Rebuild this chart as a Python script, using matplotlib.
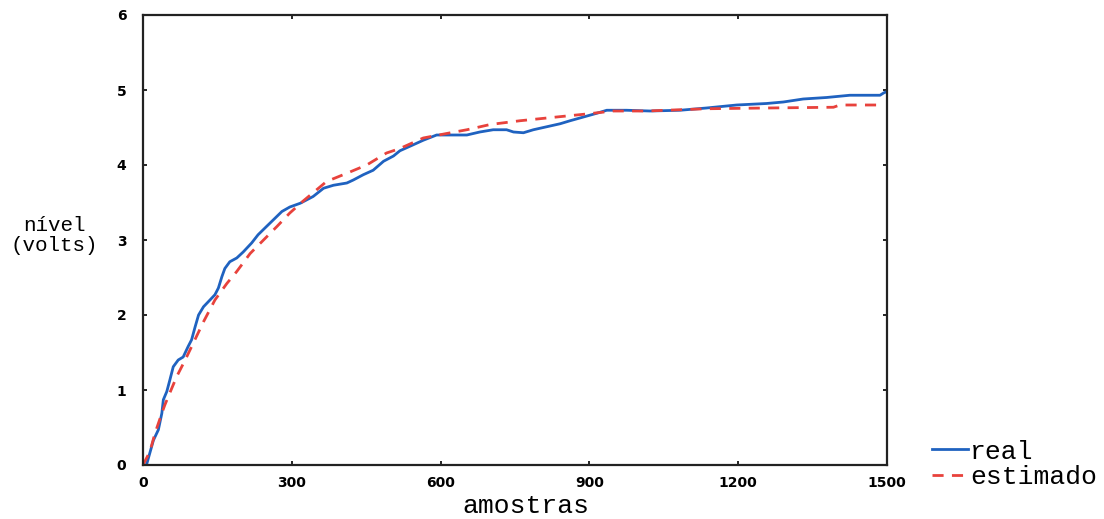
import matplotlib.pyplot as plt

# samples / level (volts) for the measured curve
x_real = [0, 7, 21, 31, 38, 41, 48, 54, 61, 71,
          81, 91, 98, 105, 112, 122, 135, 145, 152, 159,
          165, 175, 189, 202, 219, 232, 249, 263, 280, 296,
          317, 343, 364, 384, 411, 424, 444, 464, 485, 505,
          518, 545, 565, 592, 653, 679, 706, 733, 747, 767,
          787, 814, 841, 861, 888, 915, 935, 975, 1022, 1083,
          1136, 1197, 1257, 1291, 1331, 1378, 1425, 1486, 1493, 1500]
y_real = [0, 0, 0.33, 0.47, 0.69, 0.87, 0.98, 1.13, 1.31, 1.40,
          1.44, 1.58, 1.67, 1.84, 2.00, 2.11, 2.20, 2.27, 2.36, 2.51,
          2.62, 2.71, 2.76, 2.84, 2.96, 3.07, 3.18, 3.27, 3.38, 3.44,
          3.49, 3.58, 3.69, 3.73, 3.76, 3.80, 3.87, 3.93, 4.05, 4.12,
          4.19, 4.27, 4.33, 4.40, 4.40, 4.44, 4.47, 4.47, 4.44, 4.43,
          4.47, 4.51, 4.55, 4.59, 4.64, 4.69, 4.73, 4.73, 4.72, 4.73,
          4.76, 4.80, 4.82, 4.84, 4.88, 4.90, 4.93, 4.93, 4.96, 4.98]

# estimated curve
x_est = [0, 14, 24, 38, 44, 54, 68, 85, 101, 122,
         145, 169, 189, 216, 243, 270, 296, 323, 370, 411,
         451, 491, 518, 565, 612, 653, 700, 760, 834, 894,
         948, 1015, 1055, 1136, 1257, 1392, 1405, 1479]
y_est = [0, 0.18, 0.42, 0.69, 0.80, 0.96, 1.18, 1.40, 1.62, 1.91,
         2.20, 2.42, 2.58, 2.82, 3.00, 3.18, 3.36, 3.52, 3.78, 3.89,
         4.00, 4.16, 4.22, 4.36, 4.42, 4.47, 4.54, 4.59, 4.64, 4.68,
         4.72, 4.72, 4.73, 4.75, 4.76, 4.77, 4.80, 4.80]

x_ticks = [0, 300, 600, 900, 1200, 1500]
y_ticks = [0, 1, 2, 3, 4, 5, 6]

label_font = 'Liberation Mono'

fig = plt.figure(figsize=(11.04, 5.19), dpi=100)
ax = fig.add_axes([143 / 1104, 54 / 519, 744 / 1104, 450 / 519])

ax.plot(x_real, y_real, color='#1f62c0', lw=2.0, label='real')
ax.plot(x_est, y_est, color='#e8423c', lw=2.0, ls=(0, (4, 3)), label='estimado')

ax.set_xlim(0, 1500)
ax.set_ylim(0, 6)
ax.set_xticks(x_ticks)
ax.set_yticks(y_ticks)
ax.tick_params(direction='in', length=3, width=1.2, top=True, right=True,
               labelsize=10)
ax.tick_params(axis='x', pad=8)
ax.tick_params(axis='y', pad=12)
for lab in ax.get_xticklabels() + ax.get_yticklabels():
    lab.set_fontweight('bold')
for sp in ax.spines.values():
    sp.set_linewidth(1.6)
    sp.set_color('#222222')

ax.set_xlabel('amostras', family=label_font, fontsize=19)
ax.xaxis.set_label_coords(0.515, -0.065)
ax.set_ylabel('nível\n(volts)', family=label_font, fontsize=15,
              rotation=0, ha='center', va='center', linespacing=1.1)
ax.yaxis.set_label_coords(-0.119, 0.51)

fig.legend(loc='lower left', bbox_to_anchor=(932 / 1104, 30 / 519),
           frameon=False, prop={'family': label_font, 'size': 19},
           handlelength=1.35, handletextpad=0.1, labelspacing=0.05,
           borderpad=0, borderaxespad=0)

fig.savefig('out.png', dpi=100)
